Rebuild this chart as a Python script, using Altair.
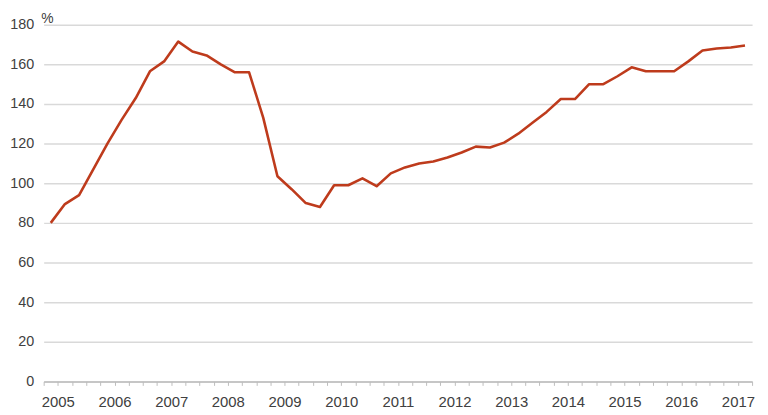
import altair as alt
import pandas as pd

# Quarterly series, 2005Q1 .. 2017Q2
years = list(range(2005, 2018))
quarters = [f"{y}Q{q}" for y in years for q in range(1, 5)][:50]
values = [
    80, 89.5, 94, 107,
    120, 132, 143, 156.5,
    161.5, 171.5, 166.5, 164.5,
    160, 156, 156, 133,
    103.5, 97, 90, 88,
    99, 99, 102.5, 98.5,
    105, 108, 110, 111,
    113, 115.5, 118.5, 118,
    120.5, 125, 130.5, 136,
    142.5, 142.5, 150, 150,
    154, 158.5, 156.5, 156.5,
    156.5, 161.5, 167, 168,
    168.5, 169.5,
]
y_ticks = [0, 20, 40, 60, 80, 100, 120, 140, 160, 180]

df = pd.DataFrame({"quarter": quarters, "idx": list(range(len(quarters))), "value": values})

n = len(quarters)
x_tick_values = [i - 0.5 for i in range(n + 1)]

FONT = "Liberation Sans"
TEXT = "#404040"

chart = (
    alt.Chart(df)
    .mark_line(color="#BE3B1C", strokeWidth=2.6, strokeJoin="round")
    .encode(
        x=alt.X(
            "idx:Q",
            scale=alt.Scale(domain=[-0.5, n - 0.5], nice=False, zero=False),
            axis=alt.Axis(
                title=None,
                values=x_tick_values,
                labelExpr="(datum.value - 0.5) % 4 == 0 ? '' + (2005 + (datum.value - 0.5) / 4) : ''",
                labelOverlap=False,
                labelFlush=False,
                grid=False,
                domainColor="#BDBDBD",
                domainWidth=1.5,
                tickColor="#BDBDBD",
                tickWidth=1,
                tickSize=4,
                labelPadding=9,
                labelFont=FONT,
                labelFontSize=15,
                labelColor=TEXT,
            ),
        ),
        y=alt.Y(
            "value:Q",
            scale=alt.Scale(domain=[0, 180], nice=False),
            axis=alt.Axis(
                title="%",
                titleAngle=0,
                titleAlign="left",
                titleBaseline="alphabetic",
                titleX=-3,
                titleY=-2,
                titleFont=FONT,
                titleFontSize=14,
                titleFontWeight="normal",
                titleColor=TEXT,
                values=y_ticks,
                domain=False,
                ticks=False,
                grid=True,
                gridColor="#D9D9D9",
                gridWidth=1.5,
                labelPadding=10,
                labelFont=FONT,
                labelFontSize=14.5,
                labelColor=TEXT,
            ),
        ),
    )
    .properties(
        width=715,
        height=360,
        autosize=alt.AutoSizeParams(type="none"),
        padding={"left": 36, "top": 15, "right": 8, "bottom": 30},
        background="white",
    )
    .configure_view(stroke=None)
)

chart.save("out.html", embed_options={"renderer": "svg", "actions": False})
